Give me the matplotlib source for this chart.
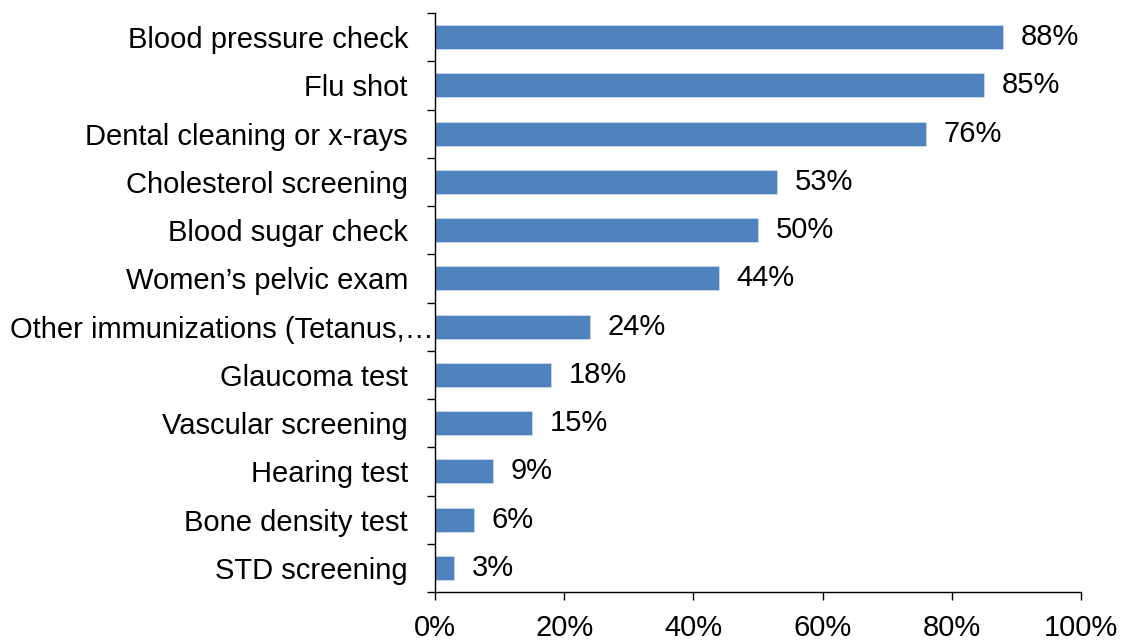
import numpy as np
from matplotlib import pyplot as plt
import matplotlib.transforms as mtransforms

categories = [
    'Blood pressure check',
    'Flu shot',
    'Dental cleaning or x-rays',
    'Cholesterol screening',
    'Blood sugar check',
    'Women\u2019s pelvic exam',
    'Other immunizations (Tetanus,\u2026',
    'Glaucoma test',
    'Vascular screening',
    'Hearing test',
    'Bone density test',
    'STD screening',
]
values = [88, 85, 76, 53, 50, 44, 24, 18, 15, 9, 6, 3]
xticks = [0, 20, 40, 60, 80, 100]

plt.rcParams['font.family'] = ['Liberation Sans', 'DejaVu Sans']

fig = plt.figure(figsize=(11.28, 6.42), dpi=100)
ax = fig.add_axes([435 / 1128, 50 / 642, 646 / 1128, 579 / 642])

pos = np.arange(len(categories))[::-1]
bars = ax.barh(pos, values, height=0.5, color='#4F81BD',
               edgecolor='#DCE6F2', linewidth=0.4)
ax.bar_label(bars, labels=[f'{v}%' for v in values], padding=12.5, fontsize=21)

ax.set_ylim(-0.5, len(categories) - 0.5)
ax.set_xlim(0, 100)

# category labels on major ticks, tick marks between categories
ax.set_yticks(pos)
ax.set_yticklabels(categories, fontsize=21)
ax.set_yticks(np.arange(-0.5, len(categories)), minor=True)
ax.tick_params(axis='y', which='major', length=0, pad=19.5)
ax.tick_params(axis='y', which='minor', length=6, width=1, direction='out')

# the clipped long label runs up to the axis line
long_lbl = ax.get_yticklabels()[categories.index('Other immunizations (Tetanus,\u2026')]
long_lbl.set_transform(long_lbl.get_transform()
                       + mtransforms.ScaledTranslation(26 / 100, 0, fig.dpi_scale_trans))

ax.set_xticks(xticks)
ax.set_xticklabels([f'{t}%' for t in xticks], fontsize=21)
ax.tick_params(axis='x', length=6, width=1, direction='out', pad=10)

for side in ['top', 'right']:
    ax.spines[side].set_visible(False)
for side in ['left', 'bottom']:
    ax.spines[side].set_linewidth(1)

fig.savefig('out.png', dpi=100)
